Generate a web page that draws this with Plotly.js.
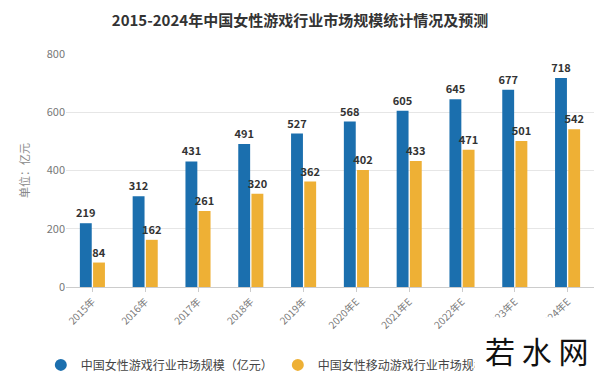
<!DOCTYPE html>
<html><head><meta charset="utf-8">
<script src="https://cdn.plot.ly/plotly-3.0.1.min.js"></script>
<style>body{margin:0;background:#fff}#c{width:600px;height:375px}</style>
</head><body><div id="c"></div>
<script>
const categories = ["2015年","2016年","2017年","2018年","2019年","2020年E","2021年E","2022年E","2023年E","2024年E"];
const totalMarket = [219,312,431,491,527,568,605,645,677,718];
const mobileMarket = [84,162,261,320,362,402,433,471,501,542];
const seriesNames = ["中国女性游戏行业市场规模（亿元）","中国女性移动游戏行业市场规模（亿元）"];
const yTicks = [0,200,400,600,800];
const colors = ["#1b6fae","#eeb035"];

const lblFont = {family:"Noto Sans CJK SC, sans-serif", size:11, color:"#333", weight:"bold"};
const traces = [
  {type:"bar", x:categories, y:totalMarket, name:seriesNames[0], marker:{color:colors[0]}, showlegend:false,
   text:totalMarket.map(String), textposition:"outside", constraintext:"none", cliponaxis:false, textfont:lblFont, outsidetextfont:lblFont},
  {type:"bar", x:categories, y:mobileMarket, name:seriesNames[1], marker:{color:colors[1]}, showlegend:false,
   text:mobileMarket.map(String), textposition:"outside", constraintext:"none", cliponaxis:false, textfont:lblFont, outsidetextfont:lblFont},
  {type:"scatter", mode:"markers", x:[null], y:[null], name:seriesNames[0], marker:{color:colors[0], size:12, symbol:"circle"}},
  {type:"scatter", mode:"markers", x:[null], y:[null], name:seriesNames[1], marker:{color:colors[1], size:12, symbol:"circle"}}
];
const layout = {
  width:600, height:375,
  margin:{l:66, r:6, t:54, b:88},
  paper_bgcolor:"#fff", plot_bgcolor:"#fff",
  font:{family:"Noto Sans CJK SC, sans-serif", color:"#666"},
  title:{text:"<b>2015-2024年中国女性游戏行业市场规模统计情况及预测</b>", x:0.5, xanchor:"center", y:0.945, yanchor:"middle",
         font:{size:15, color:"#333", family:"Noto Sans CJK SC, sans-serif"}},
  barmode:"group", bargap:0.5, bargroupgap:0.1,
  xaxis:{tickangle:-45, tickfont:{size:10, color:"#777"}, showline:true, linecolor:"#ccc", ticks:"outside", ticklen:4, tickcolor:"#ccc", showgrid:false, automargin:false},
  yaxis:{range:[0,800], tickvals:yTicks, tickfont:{size:11, color:"#777"}, gridcolor:"#e6e6e6", zeroline:false, automargin:false,
         title:{text:"单位：亿元", font:{size:11, color:"#888"}, standoff:14}},
  showlegend:true,
  legend:{orientation:"h", xref:"container", yref:"container", x:0.068, xanchor:"left", y:0.027, yanchor:"middle",
          font:{size:12, color:"#444"}, traceorder:"normal", itemwidth:30},
  annotations:[
    {text:"若 水 网", xref:"paper", yref:"paper", x:1.01, y:-0.27, xanchor:"right", yanchor:"middle", showarrow:false,
     font:{size:30, color:"#111", family:"Noto Sans CJK SC, sans-serif"}, bgcolor:"#fff", borderpad:10}
  ]
};
Plotly.newPlot("c", traces, layout, {displayModeBar:false, staticPlot:true});
</script></body></html>
